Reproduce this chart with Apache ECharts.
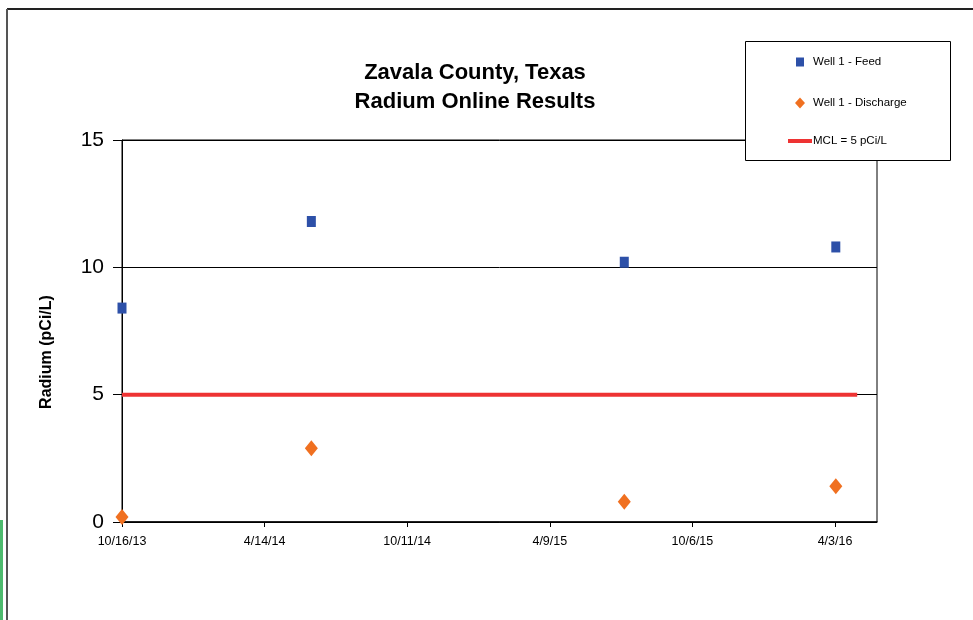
<!DOCTYPE html>
<html>
<head>
<meta charset="utf-8">
<title>Zavala County, Texas - Radium Online Results</title>
<script src="https://cdn.jsdelivr.net/npm/echarts@6/dist/echarts.min.js"></script>
<style>
  html, body { margin: 0; padding: 0; background: #fff; }
  #chart { width: 973px; height: 620px; }
</style>
</head>
<body>
<div id="chart"></div>
<script>
// 数据
const sampleDates = ["2013-10-16", "2014-06-12", "2015-07-12", "2016-04-04"];
const feedValues = [8.4, 11.8, 10.2, 10.8];
const dischargeValues = [0.2, 2.9, 0.8, 1.4];
const mclDates = ["2013-10-16", "2016-05-01"];
const mclValue = 5;
const axisStart = "2013-10-16";
const axisEndDays = 953;
const tickDays = 180;

const DAY = 86400000;
const base = Date.parse(axisStart + "T00:00:00Z");

// 日期 -> 距起点天数
const toDays = (s) => Math.round((Date.parse(s + "T00:00:00Z") - base) / DAY);

// 天数 -> M/D/YY
const fmtDate = (v) => {
  const d = new Date(base + v * DAY);
  const yy = String(d.getUTCFullYear()).slice(2);
  return d.getUTCMonth() + 1 + "/" + d.getUTCDate() + "/" + yy;
};

const sans = "'Liberation Sans', Arial, sans-serif";

const feedData = sampleDates.map((d, i) => [toDays(d), feedValues[i]]);
const dischargeData = sampleDates.map((d, i) => [toDays(d), dischargeValues[i]]);
const mclData = mclDates.map((d) => [toDays(d), mclValue]);

const legendText = { fontFamily: sans, fontSize: 11.5, color: "#000" };
const blue = "#2d50a8";
const orange = "#f07020";
const red = "#ee3333";

const option = {
  animation: false,
  backgroundColor: "#fff",
  title: {
    text: "Zavala County, Texas\nRadium Online Results",
    left: 475,
    top: 58,
    padding: 0,
    textAlign: "center",
    textStyle: {
      fontFamily: sans,
      fontSize: 22,
      fontWeight: "bold",
      lineHeight: 29,
      color: "#000",
    },
  },
  grid: {
    left: 122,
    right: 96,
    top: 140,
    bottom: 98,
    show: true,
    borderColor: "#000",
    borderWidth: 1,
  },
  xAxis: {
    type: "value",
    min: 0,
    max: axisEndDays,
    interval: tickDays,
    axisLine: { lineStyle: { color: "#000", width: 1.5 } },
    axisTick: { length: 5, lineStyle: { color: "#000" } },
    splitLine: { show: false },
    axisLabel: {
      showMaxLabel: false,
      margin: 13,
      formatter: fmtDate,
      fontFamily: sans,
      fontSize: 12.5,
      color: "#000",
    },
  },
  yAxis: {
    type: "value",
    min: 0,
    max: 15,
    interval: 5,
    axisLine: { show: true, lineStyle: { color: "#000", width: 1 } },
    axisTick: { show: true, length: 9, lineStyle: { color: "#000" } },
    splitLine: { lineStyle: { color: "#000", width: 1 } },
    axisLabel: { margin: 18, fontFamily: sans, fontSize: 21, color: "#000" },
  },
  // 三个图例分开放，方便各自控制图标大小
  legend: [
    {
      data: ["Well 1 - Feed"],
      left: 796,
      top: 56,
      padding: 0,
      itemWidth: 8,
      itemHeight: 9,
      itemGap: 0,
      textStyle: { ...legendText, padding: [0, 0, 0, 4] },
    },
    {
      data: ["Well 1 - Discharge"],
      left: 795,
      top: 97,
      padding: 0,
      itemWidth: 10,
      itemHeight: 11,
      textStyle: { ...legendText, padding: [0, 0, 0, 3] },
    },
    {
      data: [{ name: "MCL = 5 pCi/L", icon: "rect" }],
      left: 788,
      top: 135,
      padding: 0,
      itemWidth: 24,
      itemHeight: 4,
      textStyle: { ...legendText, padding: [0, 0, 0, -4] },
    },
  ],
  graphic: [
    {
      type: "rect",
      z: 3,
      shape: { x: 745.5, y: 41.5, width: 205, height: 119 },
      style: { fill: "#fff", stroke: "#000", lineWidth: 1 },
    },
    {
      type: "line",
      z: 3,
      shape: { x1: 7, y1: 9, x2: 973, y2: 9 },
      style: { stroke: "#222", lineWidth: 2 },
    },
    {
      type: "line",
      z: 3,
      shape: { x1: 7, y1: 9, x2: 7, y2: 620 },
      style: { stroke: "#555", lineWidth: 2 },
    },
    {
      type: "rect",
      z: 3,
      shape: { x: 0, y: 520, width: 3, height: 100 },
      style: { fill: "#4dbb6e" },
    },
    {
      type: "text",
      z: 3,
      x: 47,
      y: 352,
      rotation: Math.PI / 2,
      style: {
        text: "Radium (pCi/L)",
        font: "bold 16px " + sans,
        fill: "#000",
        align: "center",
        verticalAlign: "middle",
      },
    },
  ],
  series: [
    {
      name: "MCL = 5 pCi/L",
      type: "line",
      data: mclData,
      symbol: "none",
      lineStyle: { color: red, width: 4 },
      itemStyle: { color: red },
      z: 2,
    },
    {
      name: "Well 1 - Feed",
      type: "scatter",
      data: feedData,
      symbol: "rect",
      symbolSize: [9, 11],
      itemStyle: { color: blue, opacity: 1 },
      z: 3,
    },
    {
      name: "Well 1 - Discharge",
      type: "scatter",
      data: dischargeData,
      symbol: "diamond",
      symbolSize: [13, 16],
      itemStyle: { color: orange, opacity: 1 },
      z: 3,
    },
  ],
};

const chart = echarts.init(document.getElementById("chart"));
chart.setOption(option);
</script>
</body>
</html>
